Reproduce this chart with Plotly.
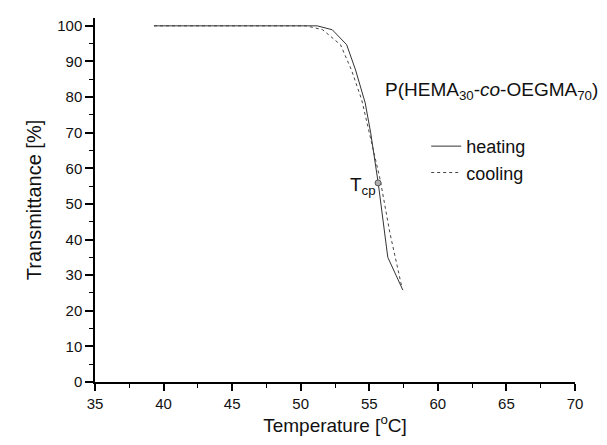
import plotly.graph_objects as go

# Data
heat_T = [39.3, 51.2, 52.3, 53.35, 54.0, 54.7, 55.1, 55.65, 56.35, 57.45]
heat_V = [100, 100, 98.9, 94.7, 87.6, 78.4, 70.0, 55.9, 35.0, 25.8]

cool_T = [39.3, 50.4, 51.6, 52.9, 53.7, 54.45, 55.0, 55.8, 56.5, 57.37]
cool_V = [100, 100, 98.9, 94.7, 87.6, 79.2, 70.0, 56.7, 41.9, 26.7]

tcp_T = [55.64]
tcp_V = [55.9]

x_ticks = [35, 40, 45, 50, 55, 60, 65, 70]
y_ticks = [0, 10, 20, 30, 40, 50, 60, 70, 80, 90, 100]

FONT = "Liberation Sans, Arial, sans-serif"

fig = go.Figure()
fig.add_trace(go.Scatter(x=heat_T, y=heat_V, mode="lines", name="heating",
                         line=dict(color="#333333", width=1)))
fig.add_trace(go.Scatter(x=cool_T, y=cool_V, mode="lines", name="cooling",
                         line=dict(color="#444444", width=1, dash="dot")))
fig.add_trace(go.Scatter(x=tcp_T, y=tcp_V, mode="markers", showlegend=False,
                         marker=dict(size=6, color="#b0b0b0",
                                     line=dict(color="#555555", width=1))))

fig.add_annotation(x=tcp_T[0], y=tcp_V[0], xref="x", yref="y",
                   text="T<sub>cp</sub>", showarrow=False,
                   xanchor="right", yanchor="middle", xshift=0, yshift=-3,
                   font=dict(family=FONT, size=19, color="#111111"))
fig.add_annotation(x=0.6, y=0.80, xref="paper", yref="paper",
                   text="P(HEMA<sub>30</sub>-<i>co</i>-OEGMA<sub>70</sub>)",
                   showarrow=False, xanchor="left", yanchor="middle",
                   font=dict(family=FONT, size=19, color="#111111"))

# page body has an 8px margin; the figure is sized to fit the 607x445 window
fig.update_layout(
    width=599, height=437,
    margin=dict(l=87, r=32, t=10, b=63),
    paper_bgcolor="white", plot_bgcolor="white",
    font=dict(family=FONT, size=15, color="#111111"),
    showlegend=True,
    legend=dict(x=0.69, y=0.698, xanchor="left", yanchor="top",
                bgcolor="rgba(0,0,0,0)", tracegroupgap=0,
                font=dict(family=FONT, size=18, color="#111111"),
                itemwidth=30),
    xaxis=dict(range=[35, 70], tickvals=x_ticks, ticktext=[str(v) for v in x_ticks],
               showgrid=False, zeroline=False, showline=True,
               linecolor="black", linewidth=1.5,
               ticks="outside", ticklen=7, tickwidth=1.5, tickcolor="black",
               minor=dict(dtick=2.5, ticks="outside", ticklen=4, tickwidth=1.2,
                          tickcolor="black", showgrid=False),
               title=dict(text="Temperature [<sup>o</sup>C]", standoff=6,
                          font=dict(family=FONT, size=19, color="#111111")),
               tickfont=dict(family=FONT, size=15, color="#111111")),
    yaxis=dict(range=[0, 102.2], tickvals=y_ticks, ticktext=[str(v) for v in y_ticks],
               showgrid=False, zeroline=False, showline=True,
               linecolor="black", linewidth=1.5,
               ticks="outside", ticklen=8, tickwidth=1.5, tickcolor="black",
               minor=dict(dtick=5, ticks="outside", ticklen=4, tickwidth=1.2,
                          tickcolor="black", showgrid=False),
               title=dict(text="Transmittance [%]", standoff=10,
                          font=dict(family=FONT, size=20, color="#111111")),
               tickfont=dict(family=FONT, size=15, color="#111111")),
)

fig.write_html("out.html")
